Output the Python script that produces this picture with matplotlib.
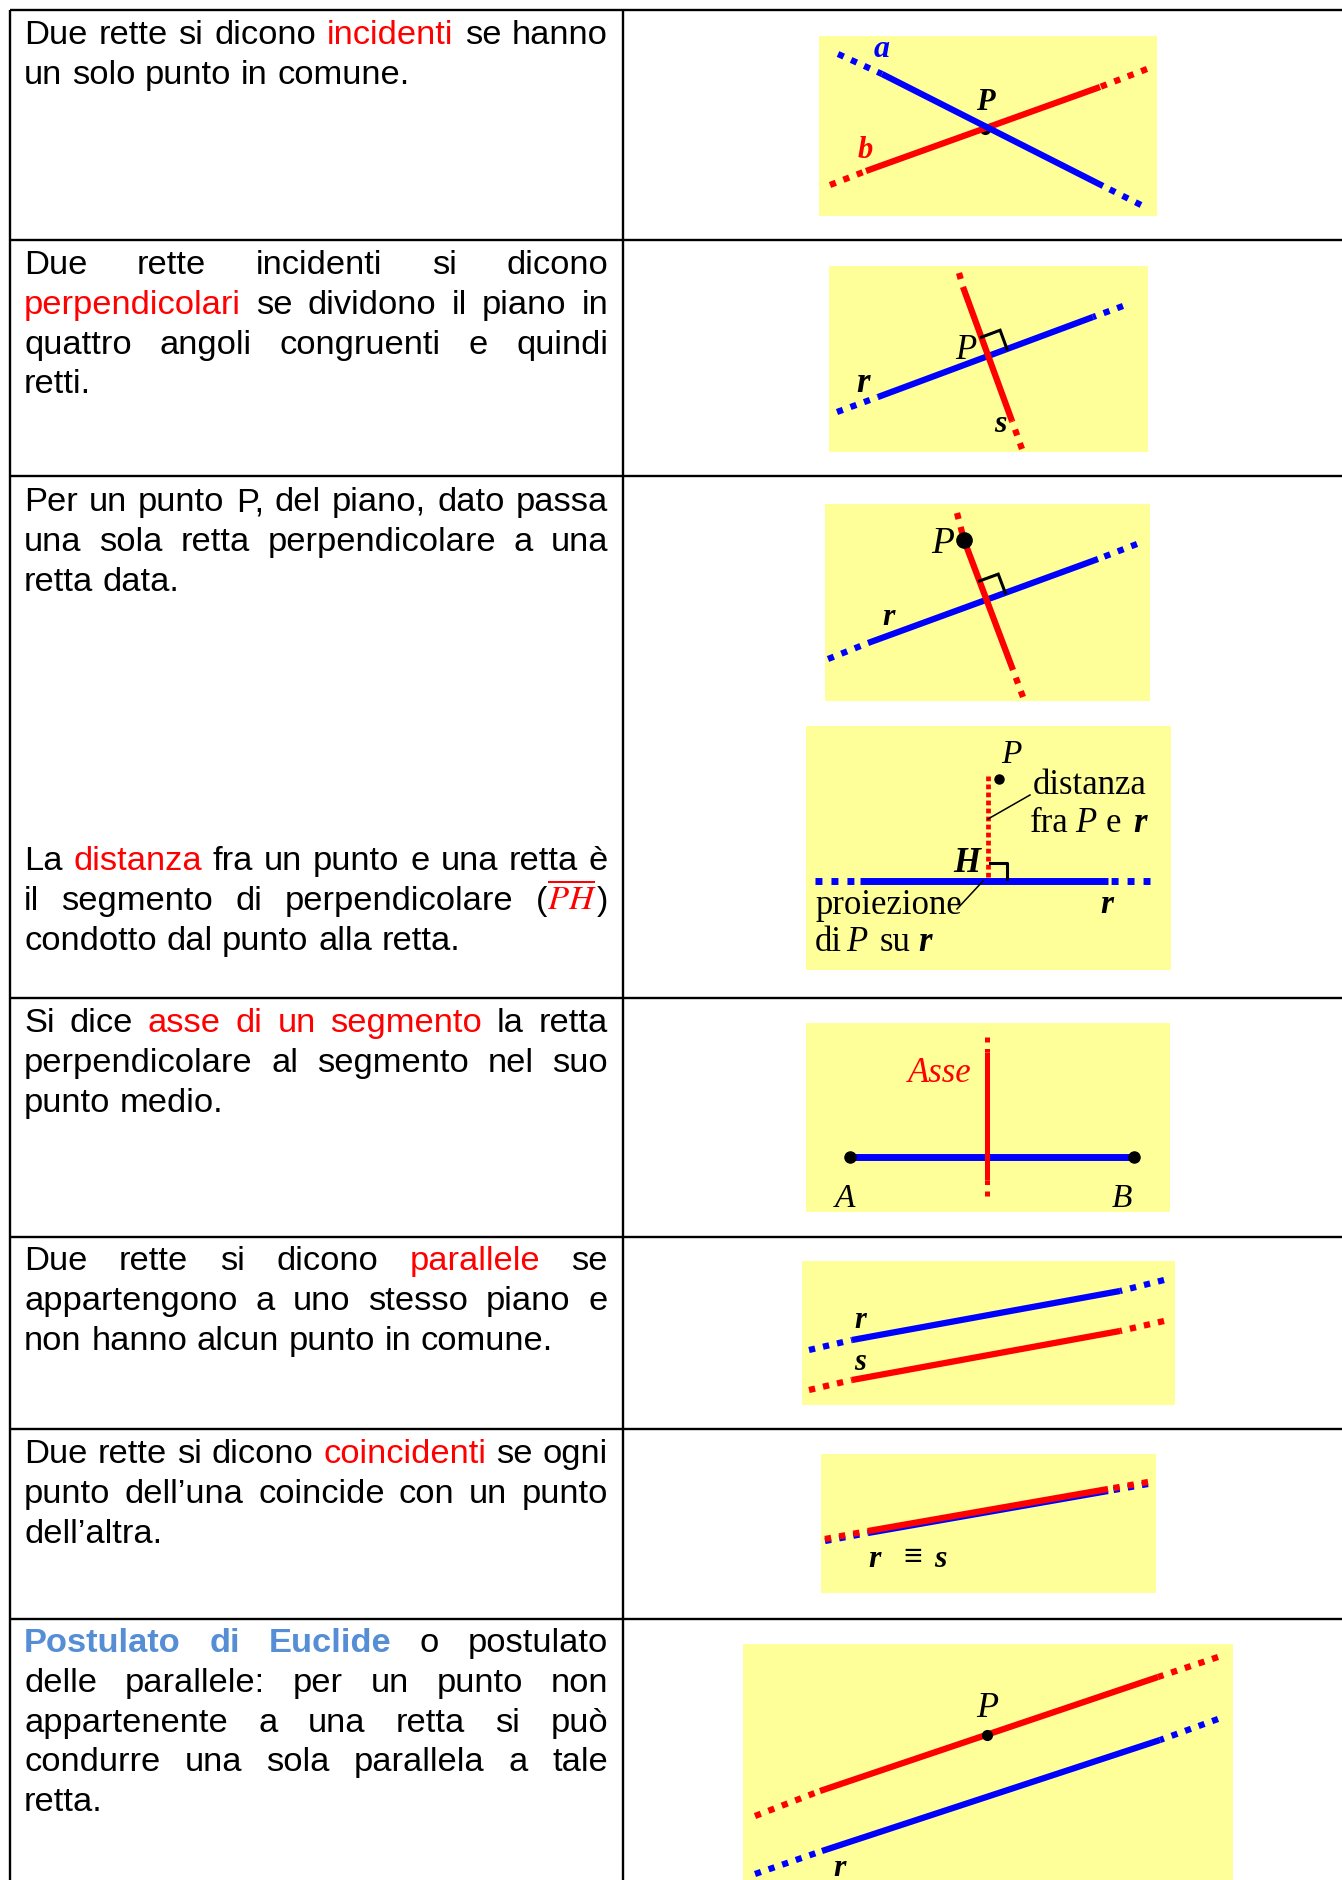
import matplotlib
matplotlib.use('Agg')
import matplotlib.pyplot as plt
import numpy as np

plt.rcParams['mathtext.fontset'] = 'stix'

W, H = 1342, 1881
fig = plt.figure(figsize=(W / 100, H / 100), dpi=100)
ax = fig.add_axes([0, 0, 1, 1])
ax.set_xlim(0, W)
ax.set_ylim(H, 0)
ax.axis('off')

# ---------------- table data ----------------
row_lines_y = [11, 241, 477, 999, 1238, 1430, 1620]
col_x = [10, 623]

# paragraphs: (first baseline, lines); each line is a list of (text, kind)
paragraphs = [
    (44, [[("Due rette si dicono ", "k"), ("incidenti", "r"), (" se hanno", "k")],
          [("un solo punto in comune.", "k")]]),
    (274, [[("Due rette incidenti si dicono", "k")],
           [("perpendicolari", "r"), (" se dividono il piano in", "k")],
           [("quattro angoli congruenti e quindi", "k")],
           [("retti.", "k")]]),
    (511, [[("Per un punto P, del piano, dato passa", "k")],
           [("una sola retta perpendicolare a una", "k")],
           [("retta data.", "k")]]),
    (870, [[("La ", "k"), ("distanza", "r"), (" fra un punto e una retta è", "k")],
           [("il segmento di perpendicolare (", "k"), ("PH", "m"), (")", "k")],
           [("condotto dal punto alla retta.", "k")]]),
    (1032, [[("Si dice ", "k"), ("asse di un segmento", "r"), (" la retta", "k")],
            [("perpendicolare al segmento nel suo", "k")],
            [("punto medio.", "k")]]),
    (1270, [[("Due rette si dicono ", "k"), ("parallele", "r"), (" se", "k")],
            [("appartengono a uno stesso piano e", "k")],
            [("non hanno alcun punto in comune.", "k")]]),
    (1463, [[("Due rette si dicono ", "k"), ("coincidenti", "r"), (" se ogni", "k")],
            [("punto dell\u2019una coincide con un punto", "k")],
            [("dell\u2019altra.", "k")]]),
    (1652, [[("Postulato di Euclide", "b"), (" o postulato", "k")],
            [("delle parallele: per un punto non", "k")],
            [("appartenente a una retta si può", "k")],
            [("condurre una sola parallela a tale", "k")],
            [("retta.", "k")]]),
]

FS = 24.8
STYLES = {
    'k': dict(family='Liberation Sans', fontsize=FS, color='#000000'),
    'r': dict(family='Liberation Sans', fontsize=FS, color='#FF0000'),
    'b': dict(family='Liberation Sans', fontsize=FS, color='#558ED5', fontweight='bold'),
    'm': dict(fontsize=FS, color='#FF0000'),
}
LINE_PITCH = 39.8
TX0, TX1 = 24, 608

# ---------------- table grid ----------------
for y in row_lines_y:
    ax.plot([col_x[0], W], [y, y], color='black', lw=1.7, solid_capstyle='butt')
for x in col_x:
    ax.plot([x, x], [row_lines_y[0], H], color='black', lw=1.7, solid_capstyle='butt')

renderer = fig.canvas.get_renderer()


def tokenize(runs):
    words = [[]]
    for text, kind in runs:
        parts = text.split(' ')
        for i, p in enumerate(parts):
            if i > 0:
                words.append([])
            if p:
                words[-1].append((p, kind))
    return [w for w in words if w]


def make_text(s, kind):
    if kind == 'm':
        s = r'$\overline{' + s + '}$'
    return ax.text(0, 0, s, ha='left', va='baseline', **STYLES[kind])


def wid(t):
    return t.get_window_extent(renderer).width


tmp1 = make_text('x x', 'k')
tmp2 = make_text('xx', 'k')
SPACE = wid(tmp1) - wid(tmp2)
tmp1.remove()
tmp2.remove()

for y0, lines in paragraphs:
    for li, runs in enumerate(lines):
        y = y0 + li * LINE_PITCH
        words = tokenize(runs)
        objs = []
        widths = []
        for w in words:
            wo = []
            tw = 0
            for s, kind in w:
                t = make_text(s, kind)
                ww = wid(t)
                wo.append((t, ww))
                tw += ww
            objs.append(wo)
            widths.append(tw)
        last = li == len(lines) - 1
        if not last and len(words) > 1:
            gap = (TX1 - TX0 - sum(widths)) / (len(words) - 1)
        else:
            gap = SPACE
        x = TX0
        for wo, tw in zip(objs, widths):
            xx = x
            for t, ww in wo:
                t.set_position((xx, y))
                xx += ww
            x += tw + gap

# ---------------- diagrams ----------------
YELLOW = '#FFFF99'
BLUE = '#0000FF'
RED = '#FF0000'

img_rects = [
    (819, 37, 1157, 217),
    (829, 267, 1148, 453),
    (825, 505, 1150, 702),
    (806, 727, 1171, 971),
    (806, 1024, 1170, 1213),
    (802, 1262, 1175, 1406),
    (821, 1455, 1156, 1594),
    (743, 1645, 1233, 1881),
]
for x0, y0, x1, y1 in img_rects:
    ax.add_patch(plt.Rectangle((x0, y0), x1 - x0, y1 - y0, facecolor=YELLOW,
                               edgecolor='none', zorder=1))

# lines: outer dotted start, solid start, solid end, outer dotted end
img1_a = [(838, 55), (882, 75), (1103, 187), (1141, 206)]
img1_b = [(830, 186), (866, 172), (1100, 88), (1147, 70)]
img2_r = [(837, 413), (878, 398), (1093, 318), (1123, 307)]
img2_s = [(959, 274), (963, 288), (1012, 422), (1022, 450)]
img3_r = [(828, 660), (868, 644), (1098, 560), (1137, 545)]
img3_s = [(957, 514), (964, 541), (1013, 671), (1023, 698)]
img4_r = [(815, 882), (860, 882), (1108, 882), (1150, 882)]
img4_d = [(988, 777), (988, 878)]
img5_ab = [(850, 1158), (1134, 1158)]
img5_axis = [(987, 1038), (987, 1053), (987, 1181), (987, 1197)]
img6_r = [(809, 1351), (852, 1341), (1120, 1292), (1164, 1281)]
img6_s = [(809, 1391), (852, 1381), (1120, 1332), (1164, 1322)]
img7_rs = [(825, 1540), (868, 1532), (1108, 1490), (1148, 1483)]
img8_p = [(755, 1817), (820, 1792), (1158, 1678), (1218, 1658)]
img8_r = [(755, 1875), (822, 1852), (1160, 1741), (1218, 1720)]

LW = 4.5
DOT = (0, (1.0, 1.3))


def draw_line(pts, color, lw=LW, z=3, dy=0):
    p = [(a, b + dy) for a, b in pts]
    ax.plot([p[0][0], p[1][0]], [p[0][1], p[1][1]], color=color, lw=lw,
            linestyle=DOT, dash_capstyle='butt', zorder=z)
    ax.plot([p[1][0], p[2][0]], [p[1][1], p[2][1]], color=color, lw=lw,
            solid_capstyle='butt', zorder=z)
    ax.plot([p[3][0], p[2][0]], [p[3][1], p[2][1]], color=color, lw=lw,
            linestyle=DOT, dash_capstyle='butt', zorder=z)


def intersect(l1, l2):
    p1, p2 = np.array(l1[1], float), np.array(l1[2], float)
    q1, q2 = np.array(l2[1], float), np.array(l2[2], float)
    d1, d2 = p2 - p1, q2 - q1
    A = np.array([d1, -d2]).T
    t = np.linalg.solve(A, q1 - p1)
    return p1 + t[0] * d1


def right_angle(red, blue, s=20):
    X = intersect(red, blue)
    u = np.array(red[1], float) - np.array(red[2], float)
    u /= np.linalg.norm(u)
    v = np.array(blue[2], float) - np.array(blue[1], float)
    v /= np.linalg.norm(v)
    pts = np.array([X + s * u, X + s * u + s * v, X + s * v])
    ax.plot(pts[:, 0], pts[:, 1], color='black', lw=2.2, zorder=4,
            solid_joinstyle='miter')


SERIF = ['Liberation Serif', 'DejaVu Serif']


def label(x, y, s, color='black', size=20, style='italic', weight='normal',
          ha='center'):
    ax.text(x, y, s, color=color, fontsize=size, fontstyle=style,
            fontweight=weight, family=SERIF, ha=ha, va='baseline', zorder=6)


# image 1
X1 = intersect(img1_a, img1_b)
ax.plot(X1[0] - 2, X1[1] + 2, 'o', color='black', ms=7, zorder=2)
draw_line(img1_b, RED)
draw_line(img1_a, BLUE, z=4)
label(882, 57, 'a', BLUE, 23, weight='bold')
label(985, 110, 'P', 'black', 22, weight='bold')
label(865, 158, 'b', RED, 22, weight='bold')

# image 2
draw_line(img2_r, BLUE)
draw_line(img2_s, RED, z=4)
right_angle(img2_s, img2_r)
label(966, 359, 'P', 'black', 25)
label(863, 392, 'r', 'black', 25, weight='bold')
label(1000, 432, 's', 'black', 23, weight='bold')

# image 3
draw_line(img3_r, BLUE)
draw_line(img3_s, RED, z=4)
right_angle(img3_s, img3_r)
ax.plot(*img3_s[1], 'o', color='black', ms=11, zorder=5)
label(943, 553, 'P', 'black', 27)
label(889, 625, 'r', 'black', 23, weight='bold')

# image 4
draw_line(img4_r, BLUE, lw=5.0)
ax.plot([img4_d[0][0], img4_d[1][0]], [img4_d[0][1], img4_d[1][1]], color=RED,
        lw=3.4, linestyle=(0, (1.0, 0.7)), dash_capstyle='butt', zorder=4)
ax.plot(999, 780, 'o', color='black', ms=6.5, zorder=5)
ax.plot([990, 1007, 1007], [864, 864, 880], color='black', lw=2.2, zorder=5)
ax.plot([1030, 988], [796, 820], color='black', lw=1.1, zorder=5)
ax.plot([983, 957], [882, 910], color='black', lw=1.1, zorder=5)
label(1011, 763, 'P', 'black', 24)
label(1033, 794, 'distanza', 'black', 25, style='normal', ha='left')
label(1030, 832, 'fra', 'black', 25, style='normal', ha='left')
label(1075, 832, 'P', 'black', 25, ha='left')
label(1106, 832, 'e', 'black', 25, style='normal', ha='left')
label(1133, 832, 'r', 'black', 25, weight='bold', ha='left')
label(967, 872, 'H', 'black', 25, weight='bold')
label(815, 914, 'proiezione', 'black', 25, style='normal', ha='left')
label(815, 951, 'di', 'black', 25, style='normal', ha='left')
label(846, 951, 'P', 'black', 25, ha='left')
label(880, 951, 'su', 'black', 25, style='normal', ha='left')
label(918, 951, 'r', 'black', 25, weight='bold', ha='left')
label(1107, 913, 'r', 'black', 24, weight='bold')

# image 5
ax.plot([img5_ab[0][0], img5_ab[1][0]], [img5_ab[0][1], img5_ab[1][1]], color=BLUE,
        lw=5.0, solid_capstyle='butt', zorder=3)
ax.plot([img5_ab[0][0], img5_ab[1][0]], [img5_ab[0][1], img5_ab[1][1]], 'o',
        color='black', ms=8, zorder=5)
draw_line(img5_axis, RED, lw=3.6, z=4)
label(940, 1082, 'Asse', RED, 25)
label(845, 1207, 'A', 'black', 24)
label(1122, 1207, 'B', 'black', 24)

# image 6
draw_line(img6_r, BLUE)
draw_line(img6_s, RED)
label(860, 1328, 'r', 'black', 22, weight='bold')
label(860, 1370, 's', 'black', 22, weight='bold')

# image 7
draw_line(img7_rs, BLUE, dy=2)
draw_line(img7_rs, RED, z=4)
label(875, 1567, 'r', 'black', 23, weight='bold')
label(913, 1566, '\u2261', 'black', 24, style='normal', weight='bold')
label(940, 1567, 's', 'black', 23, weight='bold')

# image 8
draw_line(img8_p, RED)
draw_line(img8_r, BLUE)
t_p = 0.495
px = img8_p[1][0] + t_p * (img8_p[2][0] - img8_p[1][0])
py = img8_p[1][1] + t_p * (img8_p[2][1] - img8_p[1][1])
ax.plot(px, py, 'o', color='black', ms=7, zorder=5)
label(987, 1717, 'P', 'black', 26)
label(840, 1876, 'r', 'black', 23, weight='bold')

fig.savefig('out.png', dpi=100)
